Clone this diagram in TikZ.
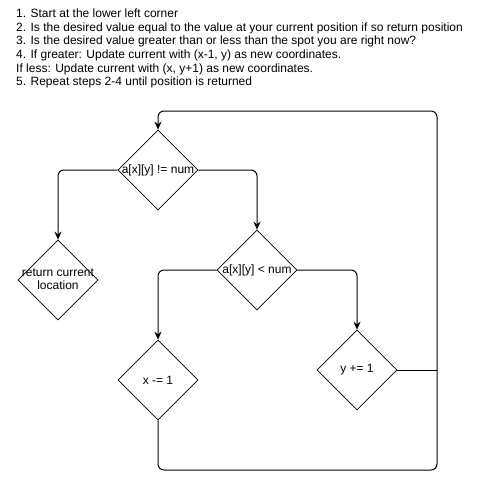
\documentclass[tikz,border=0pt]{standalone}
\usepackage{fontspec}
\setmainfont{Liberation Sans}
\usetikzlibrary{arrows.meta,shapes.geometric}
\begin{document}
\begin{tikzpicture}[x=1pt,y=-1pt,
  dia/.style={draw,line width=0.6pt,diamond,minimum width=80pt,minimum height=80pt,inner sep=0pt},
  lab/.style={font=\fontsize{12}{13.5}\selectfont,inner sep=0pt,align=center},
  conn/.style={draw,line width=1pt,rounded corners=6pt},
  arr/.style={conn,-{Stealth[length=8pt,width=7pt]}},
  txt/.style={anchor=base west,inner sep=0pt,font=\fontsize{12}{13}\selectfont}]
\useasboundingbox[fill=white] (0,0) rectangle (478,480);
\node[txt] (t1) at (16,17) {1. Start at the lower left corner};
\node[txt] (t2) at (16,31) {2. Is the desired value equal to the value at your current position if so return position};
\node[txt] (t3) at (16,44) {3. Is the desired value greater than or less than the spot you are right now?};
\node[txt] (t4) at (16,58) {4. If greater: Update current with (x-1, y) as new coordinates.};
\node[txt] (t5) at (16,72) {If less: Update current with (x, y+1) as new coordinates.};
\node[txt] (t6) at (16,85) {5. Repeat steps 2-4 until position is returned};

\node[dia] (d1) at (158,170) {};
\node[lab] (l1) at (158,170) {a[x][y] != num};
\node[dia] (d2) at (58,280) {};
\node[lab] (l2) at (58,279) {return current\\location};
\node[dia] (d3) at (257,270) {};
\node[lab] (l3) at (257,270) {a[x][y] < num};
\node[dia] (d4) at (158,380) {};
\node[lab] (l4) at (158,380) {x -= 1};
\node[dia] (d5) at (357,370) {};
\node[lab] (l5) at (357,370) {y += 1};

\coordinate (br) at (437,470);
\coordinate (tr) at (437,111);

\draw[arr] (d1.west) -| (d2.north);
\draw[arr] (d1.east) -| (d3.north);
\draw[arr] (d3.west) -| (d4.north);
\draw[arr] (d3.east) -| (d5.north);
\draw[conn] (d5.east) -- (d5.east -| br);
\draw[arr] (d4.south) |- (br) -- (tr) -| (d1.north);
\end{tikzpicture}
\end{document}
